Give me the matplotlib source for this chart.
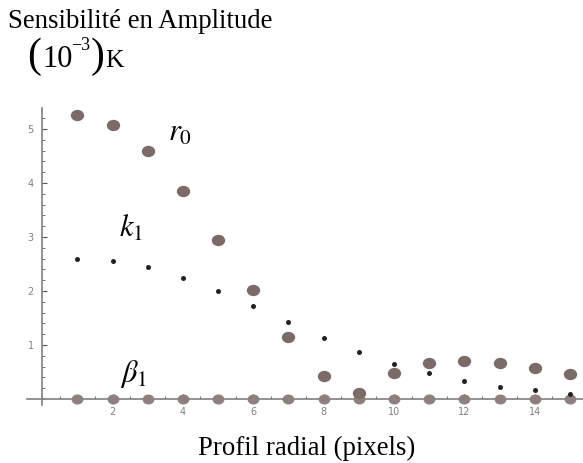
import matplotlib.pyplot as plt
from matplotlib.path import Path
from matplotlib.transforms import Affine2D
from matplotlib.ticker import MultipleLocator

# profil radial (pixels)
profil = [1, 2, 3, 4, 5, 6, 7, 8, 9, 10, 11, 12, 13, 14, 15]

# sensibilites (10^-3 K)
r0 = [5.26, 5.07, 4.60, 3.86, 2.94, 2.02, 1.15, 0.43, 0.12, 0.48, 0.66, 0.70, 0.66, 0.57, 0.46]
k1 = [2.60, 2.56, 2.45, 2.24, 2.00, 1.72, 1.43, 1.14, 0.88, 0.65, 0.48, 0.34, 0.23, 0.16, 0.10]
beta1 = [0, 0, 0, 0, 0, 0, 0, 0, 0, 0, 0, 0, 0, 0, 0]

plt.rcParams['mathtext.fontset'] = 'stix'
serif = 'Liberation Serif'

# points un peu ecrases comme dans l'original
ellipse = Path.unit_circle().transformed(Affine2D().scale(1.0, 0.85))

fig = plt.figure(figsize=(5.83, 4.63), dpi=100)
ax = fig.add_axes([27 / 583, 58 / 463, 556 / 583, 297 / 463])

ax.plot(profil, beta1, linestyle='none', marker=ellipse, markersize=8.5,
        color='#8e817d', markeredgewidth=0, zorder=3)
ax.plot(profil, r0, linestyle='none', marker=ellipse, markersize=9.6,
        color='#7b6b67', markeredgewidth=0, zorder=4)
ax.plot(profil, k1, linestyle='none', marker='o', markersize=3.6,
        color='#222222', markeredgewidth=0, zorder=5)

ax.set_xlim(-0.43, 15.37)
ax.set_ylim(-0.11, 5.39)

for s in ['top', 'right']:
    ax.spines[s].set_visible(False)
ax.spines['left'].set_position(('data', 0))
ax.spines['bottom'].set_position(('data', 0))
for s in ['left', 'bottom']:
    ax.spines[s].set_color('#808080')
    ax.spines[s].set_linewidth(1.2)

ax.xaxis.set_minor_locator(MultipleLocator(0.5))
ax.yaxis.set_minor_locator(MultipleLocator(0.2))
ax.set_xticks([2, 4, 6, 8, 10, 12, 14])
ax.set_yticks([1, 2, 3, 4, 5])

ax.tick_params(which='both', direction='in', color='#555555', labelcolor='#808080',
               labelsize=7)
ax.tick_params(which='major', length=3.5, width=0.8)
ax.tick_params(which='minor', length=2, width=0.6)
ax.tick_params(axis='x', pad=6)
ax.tick_params(axis='y', pad=6)

# noms des courbes
ax.text(3.58, 4.78, r'$r_0$', fontsize=22, ha='left', va='baseline')
ax.text(2.19, 3.00, r'$k_1$', fontsize=22, ha='left', va='baseline')
ax.text(2.22, 0.31, r'$\beta_1$', fontsize=22, ha='left', va='baseline')

# titre de l'axe y
fig.text(8 / 583, 1 - 28 / 463, 'Sensibilité en Amplitude', family=serif,
         fontsize=19.3, ha='left', va='baseline')
fig.text(27 / 583, 1 - 67 / 463, '(', family=serif, fontsize=30,
         ha='left', va='baseline')
fig.text(42 / 583, 1 - 67 / 463, '10', family=serif, fontsize=22,
         ha='left', va='baseline')
fig.text(71 / 583, 1 - 50 / 463, '\u22123', family=serif, fontsize=13,
         ha='left', va='baseline')
fig.text(91 / 583, 1 - 67 / 463, ')', family=serif, fontsize=30,
         ha='left', va='baseline')
fig.text(105 / 583, 1 - 67 / 463, 'K', family=serif, fontsize=18.5,
         ha='left', va='baseline')

# titre de l'axe x
fig.text(307 / 583, 1 - 455 / 463, 'Profil radial (pixels)', family=serif,
         fontsize=19.3, ha='center', va='baseline')

fig.savefig('out.png', dpi=100)
